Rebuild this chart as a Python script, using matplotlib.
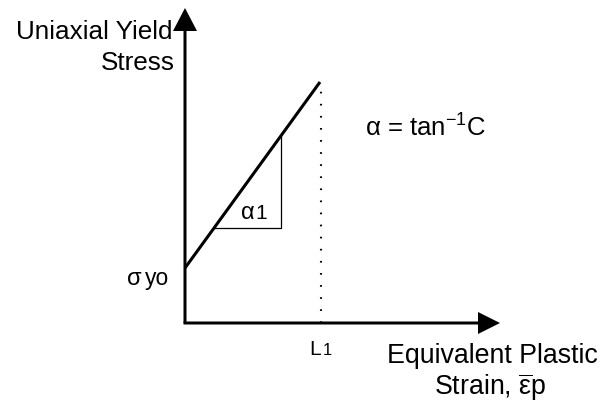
import matplotlib
matplotlib.use("Agg")
import matplotlib.pyplot as plt
import numpy as np

plt.rcParams['font.family'] = ['Liberation Sans', 'DejaVu Sans']
plt.rcParams['mathtext.fontset'] = 'custom'
plt.rcParams['mathtext.rm'] = 'Liberation Sans'
plt.rcParams['mathtext.it'] = 'Liberation Sans'
plt.rcParams['mathtext.bf'] = 'Liberation Sans:bold'

# hardening line (strain, stress) in diagram units
strain = [0, 135]
stress = [55, 241]
sigma_yo = 55
L1 = 136
dotted_top = 233
tri_strain = [29, 96]     # slope triangle corners
axis_len = 315

fig = plt.figure(figsize=(6.02, 4.05), dpi=100)
ax = fig.add_axes([0, 0, 1, 1])
ax.set_xlim(-185, 417)
ax.set_ylim(-82, 323)
ax.axis('off')

# axes arrows
ax.arrow(-1.5, 0, axis_len + 1.5, 0, width=3, head_width=22, head_length=22,
         length_includes_head=True, color='black', lw=0)
ax.arrow(0, 0, 0, axis_len, width=3, head_width=24, head_length=23,
         length_includes_head=True, color='black', lw=0)

# yield line
ax.plot(strain, stress, color='black', lw=2.2, solid_capstyle='butt')

# slope triangle
ya = np.interp(tri_strain[0], strain, stress)
yb = np.interp(tri_strain[1], strain, stress)
ax.plot([tri_strain[0], tri_strain[1], tri_strain[1]], [ya, ya, yb],
        color='black', lw=0.9)

# dotted limit
ax.plot([L1, L1], [0, dotted_top], color='black', lw=1.5, ls=(0, (0.8, 5)))

# labels
ax.text(-13, 284, 'Uniaxial Yield', fontsize=18.8, ha='right', va='baseline')
ax.text(-10, 253, 'Stress', fontsize=18.8, ha='right', va='baseline')
ax.text(307, -40, 'Equivalent Plastic', fontsize=19.3, ha='center', va='baseline')
ax.text(305, -72, r'Strain, $\overline{\varepsilon}$p', fontsize=19.3,
        ha='center', va='baseline')

ax.text(180, 186, r'$\alpha$ = tan$^{-1}$C', fontsize=18.5, ha='left', va='baseline')
ax.text(55, 104, r'$\alpha$', fontsize=17, ha='left', va='baseline')
ax.text(70, 104, '1', fontsize=15, ha='left', va='baseline')

ax.text(-59, sigma_yo - 17, r'$\sigma$', fontsize=17, ha='left', va='baseline')
ax.text(-40, sigma_yo - 17, 'yo', fontsize=16.5, ha='left', va='baseline')

ax.text(L1 - 12, -32, 'L', fontsize=15, ha='left', va='baseline')
ax.text(L1 + 2, -32, '1', fontsize=12, ha='left', va='baseline')

fig.savefig('out.png', dpi=100)
